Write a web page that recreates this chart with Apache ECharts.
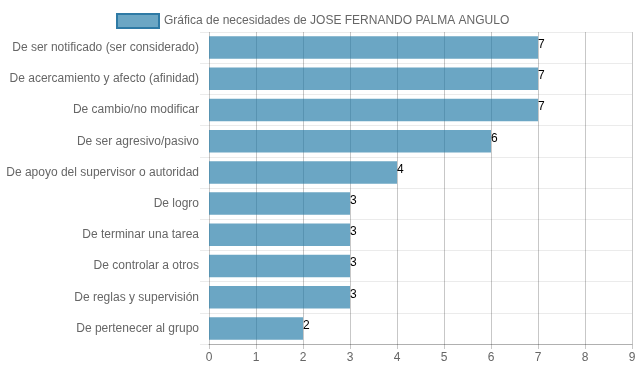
<!DOCTYPE html>
<html>
<head>
<meta charset="utf-8">
<script src="https://cdn.jsdelivr.net/npm/echarts@6/dist/echarts.min.js"></script>
<style>html,body{margin:0;padding:0;background:#fff;}#c{width:639px;height:372px;}</style>
</head>
<body>
<div id="c"></div>
<script>
const seriesName = 'Gráfica de necesidades de JOSE FERNANDO PALMA ANGULO';
const categories = [
  'De ser notificado (ser considerado)',
  'De acercamiento y afecto (afinidad)',
  'De cambio/no modificar',
  'De ser agresivo/pasivo',
  'De apoyo del supervisor o autoridad',
  'De logro',
  'De terminar una tarea',
  'De controlar a otros',
  'De reglas y supervisión',
  'De pertenecer al grupo'
];
const values = [7, 7, 7, 6, 4, 3, 3, 3, 3, 2];

const chart = echarts.init(document.getElementById('c'), null, {renderer: 'canvas'});
const font = 'Liberation Sans, Arial, sans-serif';
chart.setOption({
  animation: false,
  textStyle: {fontFamily: font},
  legend: {
    top: 8,
    left: 111,
    padding: 5,
    itemWidth: 42,
    itemHeight: 14,
    itemGap: 6,
    icon: 'rect',
    textStyle: {color: '#666', fontSize: 12, fontFamily: font},
    itemStyle: {color: 'rgba(30,120,165,0.66)', borderColor: '#2e7aa5', borderWidth: 2},
    data: [seriesName]
  },
  grid: {left: 209, right: 7, top: 32, bottom: 28, containLabel: false},
  xAxis: {
    type: 'value', min: 0, max: 9, interval: 1,
    axisLine: {show: true, lineStyle: {color: 'rgba(0,0,0,0.25)'}},
    axisTick: {show: true, length: 5, lineStyle: {color: 'rgba(0,0,0,0.22)'}},
    axisLabel: {color: '#666', fontSize: 12, margin: 8, fontFamily: font},
    splitLine: {show: true, lineStyle: {color: 'rgba(0,0,0,0.22)'}}
  },
  yAxis: {
    type: 'category', inverse: true, data: categories,
    axisLine: {show: false},
    axisTick: {show: true, length: 9, lineStyle: {color: 'rgba(0,0,0,0.08)'}},
    axisLabel: {color: '#666', fontSize: 12, margin: 10, fontFamily: font},
    splitLine: {show: true, lineStyle: {color: 'rgba(0,0,0,0.08)'}}
  },
  series: [{
    name: seriesName,
    type: 'bar',
    data: values,
    barWidth: '72%',
    itemStyle: {color: 'rgba(30,120,165,0.66)'},
    label: {show: true, position: 'right', distance: 0, offset: [0, -3], color: '#000', fontSize: 12, fontFamily: font}
  }]
});
</script>
</body>
</html>
